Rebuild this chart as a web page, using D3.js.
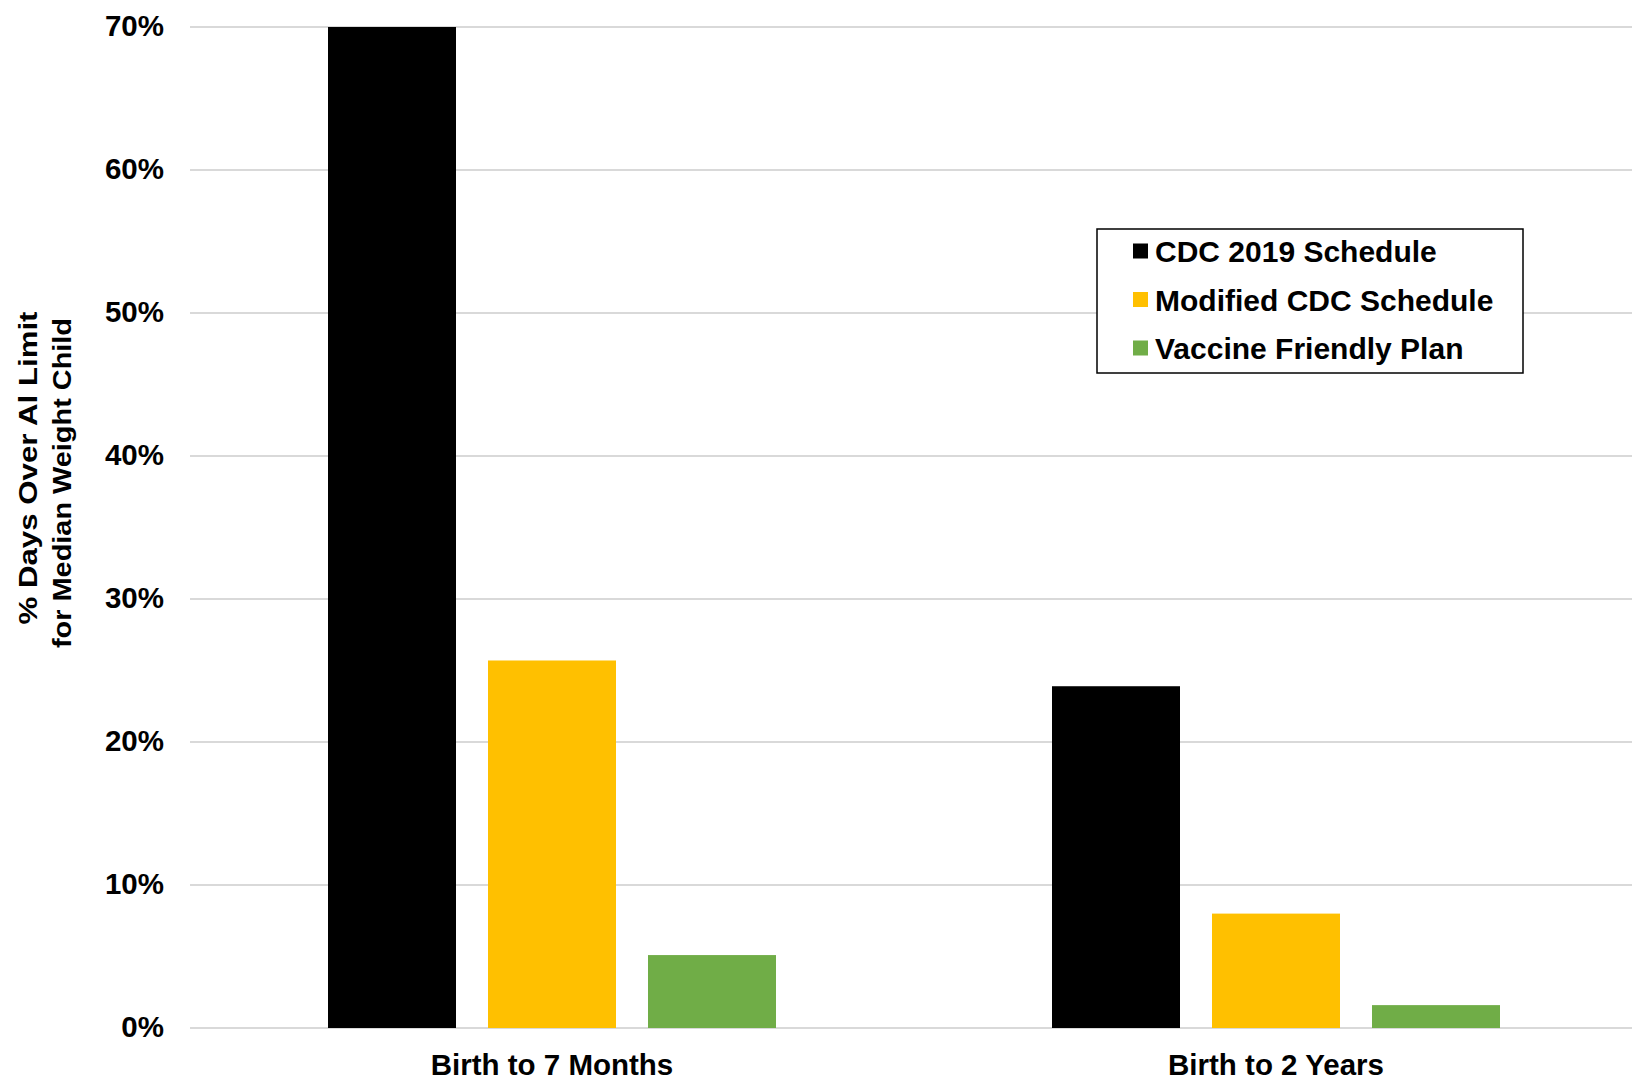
<!DOCTYPE html>
<html>
<head>
<meta charset="utf-8">
<script src="https://cdn.jsdelivr.net/npm/d3@7"></script>
<style>
  html, body { margin: 0; padding: 0; background: #fff; }
  svg { display: block; }
  text { font-family: "Liberation Sans", Arial, Helvetica, sans-serif; font-weight: bold; fill: #000; }
</style>
</head>
<body>
<svg id="chart" width="1632" height="1082"></svg>
<script>
// Age windows and vaccination schedules
const categories = ["Birth to 7 Months", "Birth to 2 Years"];
const seriesNames = ["CDC 2019 Schedule", "Modified CDC Schedule", "Vaccine Friendly Plan"];
const seriesColors = ["#000000", "#FFC000", "#70AD47"];

// % of days over the aluminium intake limit, per schedule (fractions)
const cdc2019Values = [0.700, 0.239];
const modifiedValues = [0.257, 0.080];
const vfpValues = [0.051, 0.016];

const yTicks = [0, 0.1, 0.2, 0.3, 0.4, 0.5, 0.6, 0.7];

const svg = d3.select("#chart");

const plotLeft = 190, plotRight = 1638, plotTop = 27, plotBottom = 1028;

const x = d3.scaleBand().domain(categories).range([plotLeft, plotRight]).padding(0);
const inner = d3.scaleBand().domain(seriesNames)
  .range([x.bandwidth() / 2 - 240, x.bandwidth() / 2 + 240])
  .paddingInner(0.2).paddingOuter(0.1);
const y = d3.scaleLinear().domain([0, 0.7]).range([plotBottom, plotTop]);

// Gridlines
svg.append("g")
  .selectAll("line")
  .data(yTicks)
  .join("line")
  .attr("x1", plotLeft).attr("x2", plotRight)
  .attr("y1", d => y(d)).attr("y2", d => y(d))
  .attr("stroke", "#d9d9d9").attr("stroke-width", 2);

// Y tick labels
svg.append("g")
  .selectAll("text")
  .data(yTicks)
  .join("text")
  .attr("x", 164)
  .attr("y", d => y(d) + 9)
  .attr("text-anchor", "end")
  .attr("font-size", 29.5)
  .text(d => d3.format(".0%")(d));

// Bars
const rows = categories.map((c, i) => ({
  category: c,
  values: [cdc2019Values[i], modifiedValues[i], vfpValues[i]]
}));

const groups = svg.append("g")
  .selectAll("g")
  .data(rows)
  .join("g")
  .attr("transform", d => `translate(${x(d.category)},0)`);

groups.selectAll("rect")
  .data(d => d.values.map((v, j) => ({ name: seriesNames[j], value: v, color: seriesColors[j] })))
  .join("rect")
  .attr("x", d => inner(d.name))
  .attr("width", inner.bandwidth())
  .attr("y", d => y(d.value))
  .attr("height", d => y(0) - y(d.value))
  .attr("fill", d => d.color);

// Category labels
svg.append("g")
  .selectAll("text")
  .data(categories)
  .join("text")
  .attr("x", d => x(d) + x.bandwidth() / 2)
  .attr("y", 1075)
  .attr("text-anchor", "middle")
  .attr("font-size", 29.5)
  .text(d => d);

// Y axis title (two lines, rotated)
const titleLines = [
  { text: "% Days Over Al Limit", x: 37, cy: 468, len: 313 },
  { text: "for Median Weight Child", x: 71, cy: 483, len: 330 }
];
svg.append("g")
  .selectAll("text")
  .data(titleLines)
  .join("text")
  .attr("transform", d => `translate(${d.x},${d.cy}) rotate(-90)`)
  .attr("text-anchor", "middle")
  .attr("font-size", 25)
  .attr("textLength", d => d.len)
  .attr("lengthAdjust", "spacingAndGlyphs")
  .text(d => d.text);

// Legend
const legend = svg.append("g");
legend.append("rect")
  .attr("x", 1097).attr("y", 229)
  .attr("width", 426).attr("height", 144)
  .attr("fill", "#fff").attr("stroke", "#000").attr("stroke-width", 1.5);

const legendItems = legend.selectAll("g.item")
  .data(seriesNames)
  .join("g")
  .attr("class", "item")
  .attr("transform", (d, i) => `translate(0,${251 + i * 48.5})`);

legendItems.append("rect")
  .attr("x", 1133).attr("y", -7.5)
  .attr("width", 15).attr("height", 15)
  .attr("fill", (d, i) => seriesColors[i]);

legendItems.append("text")
  .attr("x", 1155).attr("y", 11)
  .attr("font-size", 30)
  .text(d => d);
</script>
</body>
</html>
